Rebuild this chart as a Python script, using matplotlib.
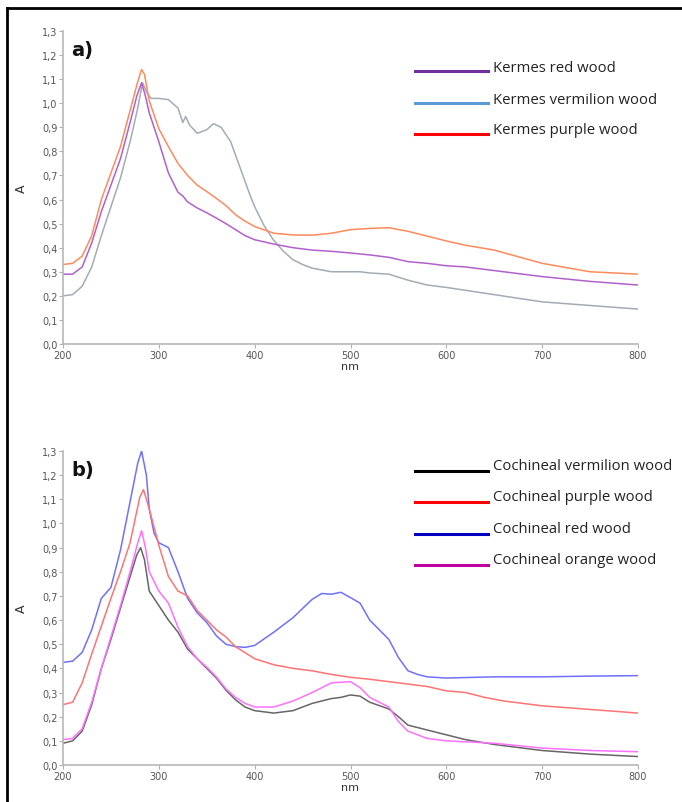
import matplotlib
matplotlib.use("Agg")
import matplotlib.pyplot as plt
from matplotlib.lines import Line2D
from matplotlib.ticker import FuncFormatter

# ---------------- Panel a) data ----------------
kr_nm = [200, 210, 220, 230, 240, 250, 260, 270, 277, 282, 286, 290, 300, 310, 320, 325, 330, 340, 350, 360, 370,
         380, 390, 400, 420, 440, 460, 480, 500, 520, 540, 560, 580, 600, 620, 650, 700, 750, 800]
kr_A = [0.29, 0.29, 0.32, 0.42, 0.55, 0.66, 0.77, 0.92, 1.03, 1.085, 1.03, 0.96, 0.84, 0.71, 0.63, 0.615, 0.59, 0.565, 0.545, 0.523, 0.50,
        0.475, 0.45, 0.433, 0.415, 0.40, 0.39, 0.385, 0.378, 0.37, 0.36, 0.342, 0.335, 0.325, 0.32, 0.305, 0.28, 0.26, 0.245]

kv_nm = [200, 210, 220, 230, 240, 250, 260, 270, 278, 283, 288, 292, 300, 310, 320, 325, 328, 332, 340, 350, 357, 365,
         375, 385, 395, 400, 410, 420, 430, 440, 450, 460, 480, 500, 510, 520, 540, 560, 580, 600, 650, 700, 750, 800]
kv_A = [0.20, 0.205, 0.24, 0.32, 0.45, 0.57, 0.69, 0.84, 0.98, 1.085, 1.04, 1.02, 1.02, 1.015, 0.98, 0.92, 0.945, 0.91, 0.875, 0.89, 0.915, 0.90,
        0.84, 0.73, 0.62, 0.57, 0.49, 0.43, 0.385, 0.35, 0.33, 0.315, 0.30, 0.30, 0.30, 0.295, 0.29, 0.265, 0.245, 0.235, 0.205, 0.175, 0.16, 0.145]

kp_nm = [200, 210, 220, 230, 240, 250, 260, 270, 278, 282, 285, 290, 300, 310, 320, 330, 340, 350, 360, 370, 380, 390, 400,
         420, 440, 460, 480, 500, 520, 540, 560, 580, 600, 620, 650, 700, 750, 800]
kp_A = [0.33, 0.335, 0.365, 0.45, 0.60, 0.71, 0.82, 0.97, 1.09, 1.14, 1.12, 1.01, 0.894, 0.82, 0.75, 0.70, 0.66, 0.633, 0.605, 0.575, 0.537, 0.51, 0.488,
        0.46, 0.453, 0.452, 0.46, 0.475, 0.48, 0.483, 0.468, 0.448, 0.428, 0.41, 0.39, 0.335, 0.30, 0.29]

# ---------------- Panel b) data ----------------
cv_nm = [200, 210, 220, 230, 240, 250, 260, 270, 277, 281, 285, 290, 300, 310, 320, 330, 340, 350, 360, 370, 380, 390, 400,
         420, 440, 460, 480, 490, 500, 510, 520, 540, 550, 560, 580, 600, 620, 650, 700, 750, 800]
cv_A = [0.09, 0.10, 0.14, 0.25, 0.40, 0.52, 0.65, 0.78, 0.87, 0.90, 0.85, 0.72, 0.66, 0.60, 0.55, 0.48, 0.44, 0.40, 0.36, 0.31, 0.27, 0.24, 0.225,
        0.215, 0.225, 0.255, 0.275, 0.28, 0.29, 0.285, 0.26, 0.232, 0.20, 0.165, 0.145, 0.125, 0.105, 0.085, 0.06, 0.045, 0.035]

cp_nm = [200, 210, 220, 230, 240, 250, 260, 270, 280, 284, 290, 300, 310, 320, 330, 340, 350, 360, 370, 380, 400,
         420, 440, 460, 480, 500, 520, 540, 560, 580, 600, 620, 640, 660, 700, 750, 800]
cp_A = [0.25, 0.26, 0.34, 0.46, 0.575, 0.69, 0.80, 0.92, 1.107, 1.14, 1.06, 0.91, 0.78, 0.72, 0.70, 0.64, 0.60, 0.56, 0.53, 0.49, 0.44,
        0.415, 0.40, 0.39, 0.375, 0.363, 0.355, 0.345, 0.335, 0.325, 0.307, 0.30, 0.28, 0.265, 0.245, 0.23, 0.215]

cr_nm = [200, 210, 220, 230, 240, 250, 260, 270, 278, 282, 287, 290, 295, 300, 310, 320, 330, 340, 350, 360, 370, 380, 390, 400,
         420, 440, 460, 470, 480, 490, 500, 510, 520, 540, 550, 560, 570, 580, 600, 650, 700, 750, 800]
cr_A = [0.425, 0.43, 0.466, 0.56, 0.69, 0.735, 0.89, 1.09, 1.25, 1.30, 1.20, 1.06, 0.96, 0.92, 0.90, 0.80, 0.69, 0.63, 0.59, 0.535, 0.50, 0.49, 0.487, 0.495,
        0.55, 0.61, 0.686, 0.71, 0.707, 0.715, 0.693, 0.67, 0.60, 0.52, 0.445, 0.39, 0.375, 0.365, 0.36, 0.365, 0.365, 0.368, 0.37]

co_nm = [200, 210, 220, 230, 240, 250, 260, 270, 278, 282, 286, 290, 300, 310, 320, 330, 340, 350, 360, 370, 380, 390, 400,
         420, 440, 460, 480, 500, 510, 520, 540, 550, 560, 580, 600, 650, 700, 750, 800]
co_A = [0.105, 0.11, 0.15, 0.26, 0.40, 0.53, 0.66, 0.80, 0.92, 0.97, 0.90, 0.80, 0.72, 0.67, 0.57, 0.49, 0.44, 0.405, 0.365, 0.315, 0.28, 0.255, 0.24,
        0.24, 0.265, 0.30, 0.34, 0.345, 0.32, 0.28, 0.24, 0.18, 0.14, 0.11, 0.10, 0.09, 0.07, 0.06, 0.055]

legend_a = ["Kermes red wood", "Kermes vermilion wood", "Kermes purple wood"]
legend_b = ["Cochineal vermilion wood", "Cochineal purple wood", "Cochineal red wood", "Cochineal orange wood"]

x_ticks = [200, 300, 400, 500, 600, 700, 800]
y_ticks = [i / 10 for i in range(14)]

fig = plt.figure(figsize=(6.82, 8.03), dpi=100)
W, H = 682, 803

def fx(px):
    return px / W

def fy(py):
    return 1 - py / H

ax_a = fig.add_axes([fx(63), fy(345), fx(638) - fx(63), fy(32) - fy(345)])
ax_b = fig.add_axes([fx(63), fy(766), fx(638) - fx(63), fy(452) - fy(766)])

comma = FuncFormatter(lambda v, p: ("%.1f" % v).replace(".", ","))

for ax, lab in [(ax_a, "a)"), (ax_b, "b)")]:
    ax.set_xlim(200, 800)
    ax.set_ylim(0, 1.3)
    ax.set_xticks(x_ticks)
    ax.set_yticks(y_ticks)
    ax.yaxis.set_major_formatter(comma)
    for s in ["top", "right"]:
        ax.spines[s].set_visible(False)
    for s in ["left", "bottom"]:
        ax.spines[s].set_color("#b8b8b8")
        ax.spines[s].set_linewidth(1.2)
    ax.tick_params(axis="both", colors="#b0b0b0", labelcolor="#555555", labelsize=7, length=3, width=0.8, pad=1)
    ax.set_xlabel("nm", fontsize=8, color="#333333", labelpad=1)
    ax.set_ylabel("A", fontsize=9, color="#333333")
    ax.yaxis.set_label_coords(-0.061, 0.5)
    ax.text(0.015, 0.97, lab, transform=ax.transAxes, fontsize=14, fontweight="bold",
            family="Liberation Sans Narrow", va="top", ha="left", color="#111111")

lw = 1.1
ax_a.plot(kv_nm, kv_A, color="#a3abb5", lw=lw)
ax_a.plot(kr_nm, kr_A, color="#b260cc", lw=lw)
ax_a.plot(kp_nm, kp_A, color="#ff8a5c", lw=lw)

ax_b.plot(cr_nm, cr_A, color="#7070ff", lw=lw)
ax_b.plot(cp_nm, cp_A, color="#ff7373", lw=lw)
ax_b.plot(cv_nm, cv_A, color="#666666", lw=lw)
ax_b.plot(co_nm, co_A, color="#ff70ff", lw=lw)

# custom legends (line segments + text)
leg_a_cols = ["#7030a0", "#5b9bd5", "#ff0000"]
leg_a_y = [72, 104, 135]
for name, c, y in zip(legend_a, leg_a_cols, leg_a_y):
    fig.add_artist(Line2D([fx(415), fx(488)], [fy(y), fy(y)], color=c, lw=2.2))
    fig.text(fx(493), fy(y - 4), name, fontsize=10.7, family="Open Sans", color="#222222", va="center", ha="left")

leg_b_cols = ["#000000", "#ff0000", "#0000c0", "#c000a0"]
leg_b_y = [472, 503, 535, 566]
for name, c, y in zip(legend_b, leg_b_cols, leg_b_y):
    fig.add_artist(Line2D([fx(415), fx(488)], [fy(y), fy(y)], color=c, lw=2.2))
    fig.text(fx(493), fy(y - 5), name, fontsize=10.7, family="Open Sans", color="#222222", va="center", ha="left")

# outer frame (top and left edges)
fig.add_artist(Line2D([fx(7), 1.0], [fy(9), fy(9)], color="black", lw=2))
fig.add_artist(Line2D([fx(7), fx(7)], [fy(9), 0.0], color="black", lw=2))

fig.savefig("out.png", dpi=100)
